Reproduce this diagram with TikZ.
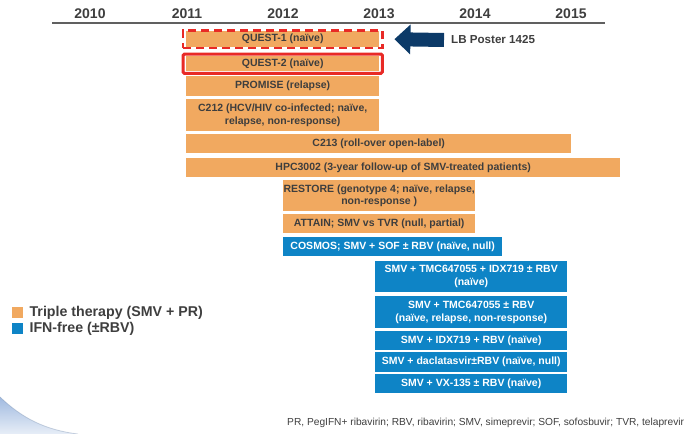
\documentclass[tikz,border=0pt]{standalone}
\usepackage{fontspec}
\setmainfont{Liberation Sans}
\usepackage{tikz}
\usetikzlibrary{positioning, arrows.meta, fit}
\definecolor{triple}{RGB}{241, 169, 96}
\definecolor{ifnfree}{RGB}{14, 132, 198}
\definecolor{posterblue}{RGB}{12, 58, 104}
\definecolor{frameRed}{RGB}{232, 42, 38}
\definecolor{axisgray}{RGB}{96, 96, 96}
\definecolor{labelgray}{RGB}{62, 62, 62}
\definecolor{swoosh}{RGB}{160, 186, 224}

\begin{document}
\begin{tikzpicture}[x=1pt, y=-1pt,
  bar/.style={anchor=north west, inner sep=0pt, align=center,
    font=\fontsize{10.5}{12.6}\selectfont\bfseries},
  tbar/.style={bar, fill=triple, text=labelgray},
  fbar/.style={bar, fill=ifnfree, text=white},
  yearlbl/.style={font=\fontsize{14}{16}\selectfont\bfseries, text=labelgray},
  legbox/.style={anchor=north west, inner sep=0pt, minimum size=11pt},
  legtext/.style={anchor=west, inner sep=0pt, text=labelgray,
    font=\fontsize{14.2}{16}\selectfont\bfseries}]
  \useasboundingbox (0,0) rectangle (694,434);

  % Swoosh in the lower left corner
  \shade[top color=swoosh, bottom color=swoosh!25]
    (0,397) .. controls (22,418) and (45,430) .. (78,434) -- (0,434) -- cycle;
  \draw[swoosh!80!black, line width=0.8pt, opacity=0.4]
    (0,397) .. controls (22,418) and (45,430) .. (78,434);

  % Time axis
  \foreach \yr/\xx in {2010/90, 2011/187, 2012/283, 2013/379, 2014/475, 2015/571}
    \node[yearlbl] (y\yr) at (\xx,14) {\yr};
  \coordinate (axL) at (52,23);
  \coordinate (axR) at (605,23);
  \draw[axisgray, line width=1.8pt] (axL) -- (axR);

  % Triple therapy studies (SMV + PR)
  \node[tbar, minimum width=193pt, minimum height=16pt] (quest1) at (186,31) {QUEST-1 (naïve)};
  \node[tbar, minimum width=193pt, minimum height=15pt] (quest2) at (186,56) {QUEST-2 (naïve)};
  \node[tbar, minimum width=193pt, minimum height=20pt] (promise) at (186,76) {PROMISE (relapse)};
  \node[tbar, minimum width=193pt, minimum height=32pt] (c212) at (186,99)
    {C212 (HCV/HIV co-infected; naïve,\\relapse, non-response)};
  \node[tbar, minimum width=385pt, minimum height=19pt] (c213) at (186,134) {C213 (roll-over open-label)};
  \node[tbar, minimum width=434pt, minimum height=19pt] (hpc3002) at (186,158)
    {HPC3002 (3-year follow-up of SMV-treated patients)};
  \node[tbar, minimum width=192pt, minimum height=31pt] (restore) at (283,180)
    {RESTORE (genotype 4; naïve, relapse,\\non-response )};
  \node[tbar, minimum width=192pt, minimum height=19pt] (attain) at (283,214)
    {ATTAIN; SMV vs TVR (null, partial)};

  % IFN-free studies
  \node[fbar, minimum width=219pt, minimum height=19pt] (cosmos) at (283,237)
    {COSMOS; SMV + SOF ± RBV (naïve, null)};
  \node[fbar, minimum width=192pt, minimum height=31pt] (tmcidx) at (375,261)
    {SMV + TMC647055 + IDX719 ± RBV\\(naïve)};
  \node[fbar, minimum width=192pt, minimum height=32pt] (tmc) at (375,296)
    {SMV + TMC647055 ± RBV\\(naïve, relapse, non-response)};
  \node[fbar, minimum width=192pt, minimum height=19pt] (idx) at (375,331)
    {SMV + IDX719 + RBV (naïve)};
  \node[fbar, minimum width=192pt, minimum height=20pt] (dacla) at (375,352)
    {SMV + daclatasvir±RBV (naïve, null)};
  \node[fbar, minimum width=192pt, minimum height=19pt] (vx135) at (375,374)
    {SMV + VX-135 ± RBV (naïve)};

  % Red frames round the QUEST trials
  \node[draw=frameRed, line width=2.6pt, dash pattern=on 8pt off 5pt,
    inner xsep=3pt, inner ysep=0.5pt, fit=(quest1)] (q1frame) {};
  \node[draw=frameRed, line width=3pt, rounded corners=1.5pt,
    inner xsep=3pt, inner ysep=2pt, fit=(quest2)] (q2frame) {};

  % Poster arrow
  \node[anchor=west, inner sep=0pt, text=labelgray,
    font=\fontsize{11.6}{14}\selectfont\bfseries] (poster) at (451,40) {LB Poster 1425};
  \draw[posterblue, line width=14pt,
    -{Triangle[length=16pt, width=29pt]}]
    ([xshift=-7pt]poster.west) -- ([xshift=15pt]quest1.east);

  % Legend
  \node[legbox, fill=triple] (legT) at (12,307) {};
  \node[legbox, fill=ifnfree] (legF) at (12,323) {};
  \node[legtext, right=6pt of legT] (legTtxt) {Triple therapy (SMV + PR)};
  \node[legtext, right=6pt of legF] (legFtxt) {IFN-free (±RBV)};

  % Abbreviations
  \node[anchor=west, inner sep=0pt, text=labelgray, font=\fontsize{10.2}{12}\selectfont]
    (abbrev) at (287,423)
    {PR, PegIFN+ ribavirin; RBV, ribavirin; SMV, simeprevir; SOF, sofosbuvir; TVR, telaprevir};
\end{tikzpicture}
\end{document}
